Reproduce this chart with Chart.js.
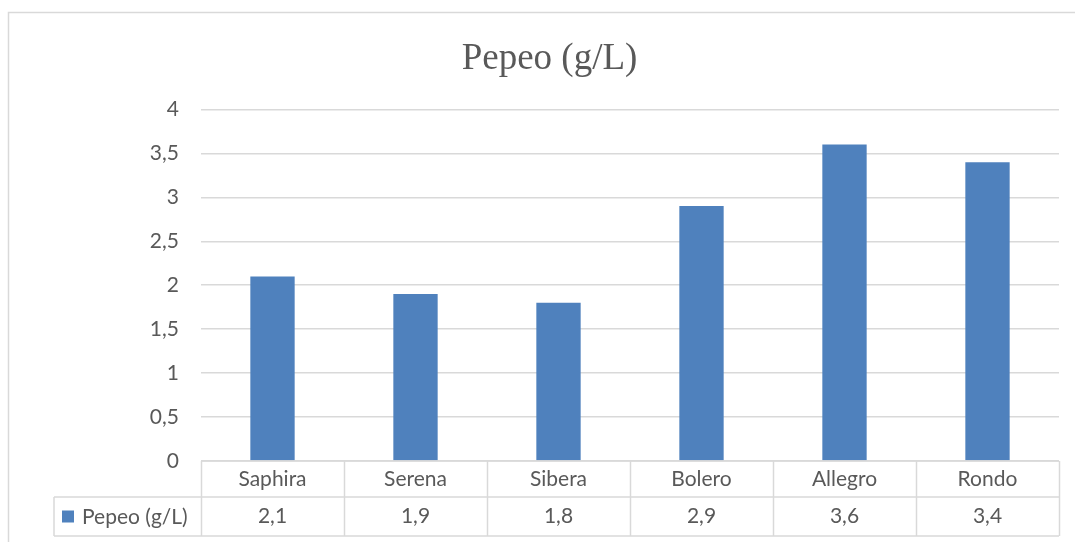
<!DOCTYPE html>
<html>
<head>
<meta charset="utf-8">
<script src="https://cdn.jsdelivr.net/npm/chart.js@4/dist/chart.umd.min.js"></script>
<style>
  html, body { margin:0; padding:0; background:#fff; }
  #wrap { width:1075px; height:542px; position:relative; }
</style>
</head>
<body>
<div id="wrap"><canvas id="c" width="1075" height="542"></canvas></div>
<script>
// ── Données ─────────────────────────────────────────────
const categories  = ['Saphira', 'Serena', 'Sibera', 'Bolero', 'Allegro', 'Rondo'];
const pepeoValues = [2.1, 1.9, 1.8, 2.9, 3.6, 3.4];
const seriesLabel = 'Pepeo (g/L)';
const chartTitle  = 'Pepeo (g/L)';

const BAR   = '#4F81BD';
const GRID  = '#d9d9d9';
const TXT   = '#595959';
const FONT  = 'Lato, "Open Sans", sans-serif';

const fmt = v => String(v).replace('.', ',');

// ── Cadre + tableau de données sous l'axe ───────────────
const frameAndTable = {
  id: 'frameAndTable',
  beforeDraw(chart) {
    const ctx = chart.ctx;
    ctx.save();
    ctx.strokeStyle = GRID;
    ctx.lineWidth = 1.5;
    ctx.beginPath();
    ctx.moveTo(8.5, 542); ctx.lineTo(8.5, 12.5); ctx.lineTo(1075, 12.5);
    ctx.stroke();
    ctx.restore();
  },
  afterDraw(chart) {
    const ctx = chart.ctx;
    const { left, right, bottom } = chart.chartArea;
    const x = chart.scales.x;
    const n = categories.length;
    const cw = (right - left) / n;
    const row1 = bottom, row2 = bottom + 36, row3 = bottom + 75;
    const legendLeft = 54;

    ctx.save();
    ctx.strokeStyle = GRID;
    ctx.lineWidth = 1.5;
    ctx.beginPath();
    // lignes horizontales
    ctx.moveTo(left, row1); ctx.lineTo(right, row1);
    ctx.moveTo(legendLeft, row2); ctx.lineTo(right, row2);
    ctx.moveTo(legendLeft, row3); ctx.lineTo(right, row3);
    // verticales
    ctx.moveTo(legendLeft, row2); ctx.lineTo(legendLeft, row3);
    for (let i = 0; i <= n; i++) {
      const px = Math.round(left + i * cw) + 0.5;
      ctx.moveTo(px, row1); ctx.lineTo(px, row3);
    }
    ctx.stroke();

    ctx.fillStyle = TXT;
    ctx.font = '21px ' + FONT;
    ctx.textAlign = 'center';
    ctx.textBaseline = 'middle';
    categories.forEach((c, i) => {
      const cx = x.getPixelForValue(i);
      ctx.fillText(c, cx, (row1 + row2) / 2);
      ctx.fillText(fmt(pepeoValues[i]), cx, (row2 + row3) / 2);
    });

    // légende dans le tableau
    const my = (row2 + row3) / 2;
    ctx.fillStyle = BAR;
    ctx.fillRect(62, my - 6, 12, 12);
    ctx.fillStyle = TXT;
    ctx.textAlign = 'left';
    ctx.fillText(seriesLabel, 82, my + 1);
    ctx.restore();
  }
};

new Chart(document.getElementById('c'), {
  type: 'bar',
  data: {
    labels: categories,
    datasets: [{
      label: seriesLabel,
      data: pepeoValues,
      backgroundColor: BAR,
      borderWidth: 0,
      categoryPercentage: 1,
      barPercentage: 0.31,
    }]
  },
  options: {
    responsive: false,
    animation: false,
    layout: { padding: { left: 40, right: 16, top: 0, bottom: 81 } },
    plugins: {
      legend: { display: false },
      tooltip: { enabled: false },
      title: {
        display: true,
        text: chartTitle,
        color: TXT,
        font: { family: '"Liberation Serif", "Times New Roman", serif', size: 37, weight: 'normal' },
        padding: { top: 37, bottom: 28 },
      }
    },
    scales: {
      x: {
        display: false,
      },
      y: {
        min: 0, max: 4,
        afterFit: s => { s.width = 161; },
        border: { display: false },
        grid: { color: GRID, lineWidth: 1.5, drawTicks: false },
        ticks: {
          stepSize: 0.5,
          padding: 22,
          color: TXT,
          font: { family: FONT, size: 21 },
          callback: v => fmt(v),
        }
      }
    }
  },
  plugins: [frameAndTable]
});
</script>
</body>
</html>
